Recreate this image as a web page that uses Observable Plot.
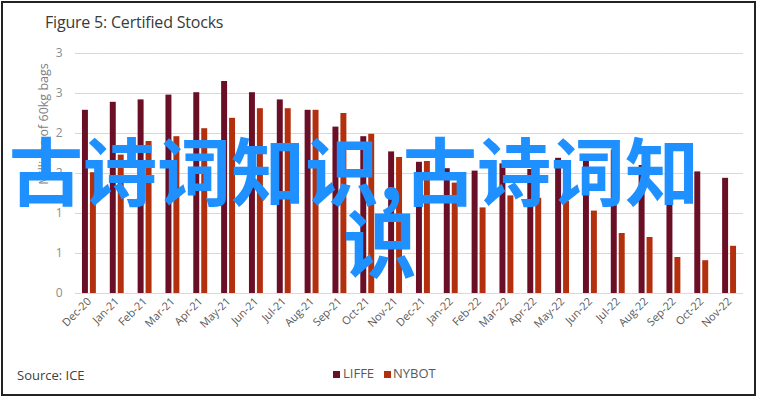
<!DOCTYPE html>
<html>
<head>
<meta charset="utf-8">
<script src="https://cdn.jsdelivr.net/npm/d3@7"></script>
<script src="https://cdn.jsdelivr.net/npm/@observablehq/plot@0.6"></script>
<style>
  html, body { margin: 0; padding: 0; background: #fff; }
  #wrap { position: relative; width: 760px; height: 399px; overflow: hidden; font-family: "Open Sans", sans-serif; }
  #frame { position: absolute; left: 1px; top: 1px; width: 755px; height: 395px; box-sizing: border-box; border: 2px solid #222; }
  #chart { position: absolute; left: 0; top: 0; }
  #title { position: absolute; left: 45px; top: 13.8px; font-size: 16px; line-height: 1; color: #3a3a3a; letter-spacing: -0.2px; white-space: nowrap; }
  #ylabel { position: absolute; left: 44px; top: 124px; width: 0; height: 0; }
  #ylabel span { position: absolute; left: 0; top: 0; transform: translate(-50%, -50%) rotate(-90deg); white-space: nowrap; font-size: 12.5px; line-height: 1; color: #7f7f7f; }
  #source { position: absolute; left: 17px; top: 368.5px; font-size: 13px; line-height: 1; color: #404040; white-space: nowrap; }
  .leg { position: absolute; top: 366.5px; font-size: 13px; line-height: 1; color: #595959; white-space: nowrap; }
  .sw { position: absolute; width: 7px; height: 7px; top: 371px; }
  .wm { position: absolute; font-family: "Noto Sans CJK SC", sans-serif; font-weight: 700; font-size: 74px; line-height: 1; color: #1E90FF; white-space: nowrap; }
</style>
</head>
<body>
<div id="wrap">
  <div id="frame"></div>
  <div id="chart"></div>
  <div id="title"></div>
  <div id="ylabel"><span></span></div>
  <div id="source"></div>
  <div id="legend"></div>
  <div id="wm1" class="wm" style="left:9px; top:131px;"></div>
  <div id="wm2" class="wm" style="left:343px; top:203px;"></div>
</div>
<script>
const titleText = "Figure 5: Certified Stocks";
const yAxisTitle = "Millions of 60kg bags";
const sourceText = "Source: ICE";
const watermarkLines = ["古诗词知识,古诗词知", "识"];

const months = ["Dec-20","Jan-21","Feb-21","Mar-21","Apr-21","May-21","Jun-21","Jul-21","Aug-21","Sep-21","Oct-21","Nov-21",
                "Dec-21","Jan-22","Feb-22","Mar-22","Apr-22","May-22","Jun-22","Jul-22","Aug-22","Sep-22","Oct-22","Nov-22"];
const seriesNames = ["LIFFE", "NYBOT"];
const seriesColors = ["#6b0f27", "#b3300e"];
const liffe = [2.29,2.39,2.42,2.48,2.51,2.65,2.51,2.42,2.29,2.08,1.96,1.77,1.64,1.56,1.53,1.62,1.55,1.69,1.68,1.79,1.60,1.58,1.52,1.44];
const nybot = [1.51,1.73,1.90,1.96,2.06,2.19,2.31,2.31,2.29,2.25,1.99,1.70,1.65,1.38,1.07,1.22,1.19,1.15,1.03,0.75,0.70,0.45,0.41,0.59];
const yTicks = [0, 0.5, 1, 1.5, 2, 2.5, 3];
const yTickLabels = ["0", "1", "1", "2", "2", "3", "3"];

const rows = months.flatMap((m, i) => [
  {month: m, series: seriesNames[0], value: liffe[i]},
  {month: m, series: seriesNames[1], value: nybot[i]}
]);
const yLabelMap = new Map(yTicks.map((t, i) => [t, yTickLabels[i]]));

const chart = Plot.plot({
  width: 760,
  height: 345,
  marginLeft: 75,
  marginRight: 17,
  marginTop: 53,
  marginBottom: 52,
  style: {fontFamily: "'Open Sans', sans-serif", background: "transparent", overflow: "visible"},
  fx: {domain: months, padding: 0, round: false, label: null},
  x: {domain: seriesNames, paddingInner: 0.25, paddingOuter: 0.875, round: false, axis: null},
  y: {domain: [0, 3], label: null},
  color: {domain: seriesNames, range: seriesColors},
  marks: [
    Plot.gridY(yTicks, {stroke: "#d9d9d9", strokeOpacity: 1, strokeWidth: 1}),
    Plot.axisY(yTicks, {tickSize: 0, tickPadding: 13, tickFormat: d => yLabelMap.get(d), fontSize: 12, color: "#8c8c8c", label: null}),
    Plot.axisFx({anchor: "bottom", tickSize: 0, tickPadding: 6, tickRotate: -45, fontSize: 11, color: "#595959", label: null}),
    Plot.barY(rows, {fx: "month", x: "series", y: "value", fill: "series"})
  ]
});
document.getElementById("chart").appendChild(chart);

document.getElementById("title").textContent = titleText;
document.querySelector("#ylabel span").textContent = yAxisTitle;
document.getElementById("source").textContent = sourceText;
document.getElementById("wm1").textContent = watermarkLines[0];
document.getElementById("wm2").textContent = watermarkLines[1];

const legend = document.getElementById("legend");
const legPos = [{sw: 333, tx: 343}, {sw: 384, tx: 393}];
seriesNames.forEach((name, i) => {
  const sw = document.createElement("div");
  sw.className = "sw";
  sw.style.left = legPos[i].sw + "px";
  sw.style.background = seriesColors[i];
  legend.appendChild(sw);
  const t = document.createElement("div");
  t.className = "leg";
  t.style.left = legPos[i].tx + "px";
  t.textContent = name;
  legend.appendChild(t);
});
</script>
</body>
</html>
